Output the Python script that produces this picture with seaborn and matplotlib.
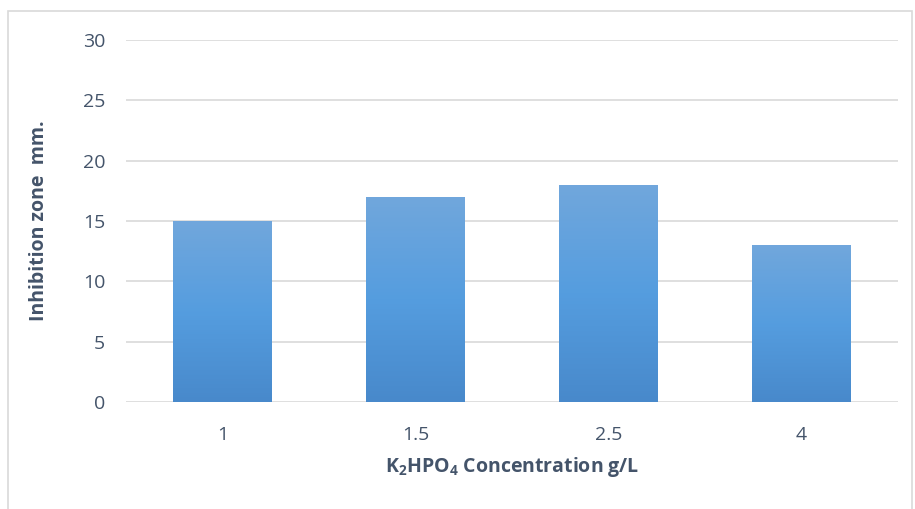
import numpy as np
import pandas as pd
import matplotlib
matplotlib.use("Agg")
import matplotlib.pyplot as plt
import seaborn as sns
from matplotlib.colors import LinearSegmentedColormap
from matplotlib.patches import Rectangle

# Data
concentrations = ["1", "1.5", "2.5", "4"]
inhibition_zone = [15, 17, 18, 13]
y_ticks = [0, 5, 10, 15, 20, 25, 30]

df = pd.DataFrame({"conc": concentrations, "zone": inhibition_zone})

sns.set_theme(style="white")
plt.rcParams["font.family"] = ["Open Sans", "DejaVu Sans"]
plt.rcParams["mathtext.default"] = "regular"

text_color = "#44546a"
grid_color = "#d9d9d9"

fig = plt.figure(figsize=(9.15, 5.09), dpi=100)
W, H = 915, 509
ax = fig.add_axes([126 / W, 1 - 402 / H, (898 - 126) / W, (402 - 40) / H])

sns.barplot(data=df, x="conc", y="zone", ax=ax, color="#5b9bd5",
            width=0.51, saturation=1, zorder=3)

# vertical gradient fill for each bar
cmap = LinearSegmentedColormap.from_list(
    "bar_grad", ["#4889cb", "#559ddf", "#71a7dc"])
grad = np.linspace(0, 1, 256).reshape(-1, 1)
for patch in ax.patches:
    x0, y0 = patch.get_x(), patch.get_y()
    w, h = patch.get_width(), patch.get_height()
    patch.set_facecolor("none")
    patch.set_edgecolor("none")
    im = ax.imshow(grad, cmap=cmap, origin="lower", aspect="auto",
                   extent=(x0, x0 + w, y0, y0 + h), zorder=3)
    im.set_clip_path(patch)
ax.set_xlim(-0.5, len(concentrations) - 0.5)
ax.set_ylim(0, 30)
ax.set_yticks(y_ticks)

ax.yaxis.grid(True, color=grid_color, linewidth=1.2, zorder=0)
ax.xaxis.grid(False)
for s in ax.spines.values():
    s.set_visible(False)
ax.tick_params(axis="both", length=0, labelsize=14, colors=text_color)
ax.tick_params(axis="y", pad=15)
ax.tick_params(axis="x", pad=17)

ax.set_xlabel("K$_2$HPO$_4$ Concentration g/L", fontsize=14, fontweight="bold",
              color=text_color, labelpad=8)
ax.set_ylabel("Inhibition zone  mm.", fontsize=14, fontweight="bold",
              color=text_color, labelpad=24)

# outer chart frame
fig.patches.append(Rectangle((8 / W, -0.05), (912 - 8) / W, 1 - 11 / H + 0.05,
                             transform=fig.transFigure, fill=False,
                             edgecolor="#d9d9d9", linewidth=1.2))

fig.savefig("out.png", dpi=100, facecolor="white")
